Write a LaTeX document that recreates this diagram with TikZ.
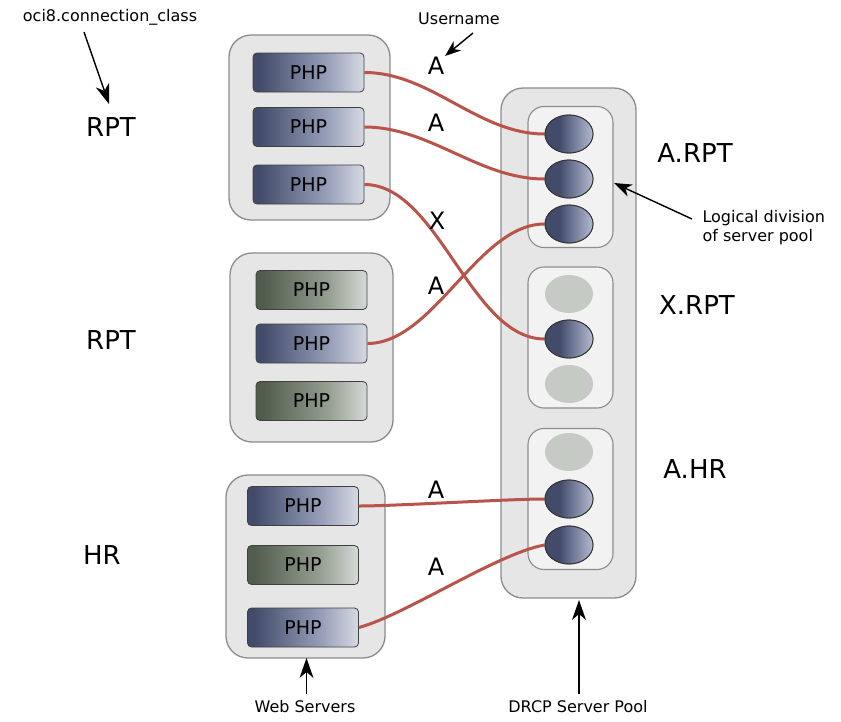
\documentclass[tikz,border=0pt]{standalone}
\usepackage{fontspec}
\setmainfont{DejaVu Sans}
\usetikzlibrary{shapes.geometric}
\definecolor{navy}{RGB}{66,76,106}
\definecolor{olive}{RGB}{80,92,76}
\definecolor{lightend}{RGB}{240,242,244}
\definecolor{midblue}{RGB}{150,158,184}
\definecolor{midgreen}{RGB}{150,160,146}
\definecolor{boxfill}{RGB}{230,230,230}
\definecolor{boxline}{RGB}{140,140,140}
\definecolor{grpfill}{RGB}{242,242,242}
\definecolor{idle}{RGB}{198,202,196}
\definecolor{wire}{RGB}{184,84,74}
\pgfdeclarehorizontalshading{phpblue}{100bp}{color(0bp)=(navy); color(28bp)=(navy); color(58bp)=(midblue); color(82bp)=(lightend); color(100bp)=(lightend)}
\pgfdeclarehorizontalshading{phpgreen}{100bp}{color(0bp)=(olive); color(28bp)=(olive); color(58bp)=(midgreen); color(82bp)=(lightend); color(100bp)=(lightend)}
\pgfdeclarehorizontalshading{ballblue}{100bp}{color(0bp)=(navy); color(40bp)=(navy); color(66bp)=(midblue); color(92bp)=(lightend); color(100bp)=(lightend)}
\begin{document}
\begin{tikzpicture}[x=1pt,y=-1pt,
  webbox/.style={draw=boxline,line width=1.3pt,fill=boxfill,rounded corners=22pt,inner sep=0pt},
  grpbox/.style={draw=boxline,line width=1.1pt,fill=grpfill,rounded corners=16pt,inner sep=0pt,minimum width=85pt,minimum height=141pt},
  phpb/.style={draw=black!75,line width=0.8pt,rounded corners=4pt,shading=phpblue,minimum width=111pt,minimum height=39pt,inner sep=0pt,font=\fontsize{19}{19}\selectfont},
  phpg/.style={phpb,shading=phpgreen},
  ball/.style={ellipse,draw=black!80,line width=0.9pt,shading=ballblue,minimum width=48pt,minimum height=38pt,inner sep=0pt},
  idleball/.style={ellipse,fill=idle,minimum width=48pt,minimum height=38pt,inner sep=0pt},
  wireline/.style={draw=wire,line width=3pt},
  big/.style={font=\fontsize{26}{26}\selectfont},
  lab/.style={font=\fontsize{24}{24}\selectfont},
  small/.style={font=\fontsize{16}{19}\selectfont,align=left},
  pointer/.style={line width=1.4pt},
  tiphead/.style={fill=black}]
\useasboundingbox (0,0) rectangle (841,721);
% web server boxes
\node[webbox,minimum width=161pt,minimum height=185pt] (w1) at (309.5,127.5) {};
\node[webbox,minimum width=163pt,minimum height=189pt] (w2) at (311.5,347.5) {};
\node[webbox,minimum width=159pt,minimum height=183pt] (w3) at (305.5,566.5) {};
% pool
\node[webbox,minimum width=135pt,minimum height=510pt] (pool) at (568.5,343) {};
\node[grpbox] (g1) at (570.5,177) {};
\node[grpbox] (g2) at (570.5,337.5) {};
\node[grpbox] (g3) at (570.5,499) {};
% php processes
\node[phpb] (p1) at (308.5,72.5) {PHP};
\node[phpb] (p2) at (308.5,127) {PHP};
\node[phpb] (p3) at (308.5,184.5) {PHP};
\node[phpg] (p4) at (311.5,290) {PHP};
\node[phpb] (p5) at (311.5,343.5) {PHP};
\node[phpg] (p6) at (311.5,401) {PHP};
\node[phpb] (p7) at (303,506) {PHP};
\node[phpg] (p8) at (303,565) {PHP};
\node[phpb] (p9) at (303,627.5) {PHP};
% server processes
\node[ball] (c1) at (569,134) {};
\node[ball] (c2) at (569,179) {};
\node[ball] (c3) at (569,224) {};
\node[idleball] (c4) at (569,294) {};
\node[ball] (c5) at (569,339) {};
\node[idleball] (c6) at (569,384) {};
\node[idleball] (c7) at (569,452) {};
\node[ball] (c8) at (569,499) {};
\node[ball] (c9) at (569,545) {};
% connections
\draw[wireline] (p1.east) to[out=0,in=180,looseness=0.9] (c1.west);
\draw[wireline] (p2.east) to[out=0,in=180,looseness=0.9] (c2.west);
\draw[wireline] (p3.east) to[out=0,in=180,looseness=0.8] (c5.west);
\draw[wireline] (p5.east) to[out=0,in=180,looseness=0.8] (c3.west);
\draw[wireline] (p7.east) to[out=0,in=180,looseness=0.5] (c8.west);
\draw[wireline] (p9.east) to[out=15,in=190,looseness=0.6] (c9.west);
% redraw balls on top of wires
\node[ball] at (c1) {};
\node[ball] at (c2) {};
\node[ball] at (c3) {};
\node[ball] at (c5) {};
\node[ball] at (c8) {};
\node[ball] at (c9) {};
% username labels
\node[lab] (a1) at (436,66) {A};
\node[lab] (a2) at (436,123) {A};
\node[lab] (x1) at (437,221) {X};
\node[lab] (a4) at (436,286) {A};
\node[lab] (a5) at (436,490) {A};
\node[lab] (a6) at (436,567) {A};
% connection class labels
\node[big] (r1) at (111,127) {RPT};
\node[big] (r2) at (111,340) {RPT};
\node[big] (r3) at (102,555) {HR};
\node[big] (pa) at (695,153) {A.RPT};
\node[big] (px) at (697,305) {X.RPT};
\node[big] (ph) at (695,469) {A.HR};
% annotations
\node[small] (oci) at (110,17) {oci8.connection\_class};
\node[small] (user) at (459,19) {Username};
\node[small,anchor=west] (logic) at (699,228) {Logical division\\of server pool};
\node[small] (web) at (305,707) {Web Servers};
\node[small] (drcp) at (578,707) {DRCP Server Pool};
% pointer arrows (line + filled stealth head)
\coordinate (ocistart) at (84,32);
\coordinate (ocitip) at (109,104);
\draw[pointer] (ocistart) -- (104.4,90.8);
\fill[tiphead] (ocitip) -- (95.8,87.4) -- (104.4,90.8) -- (109.1,82.8) -- cycle;
\coordinate (userstart) at (473,33);
\coordinate (usertip) at (445,56);
\draw[pointer] (userstart) -- (453.5,49.0);
\fill[tiphead] (usertip) -- (453.6,41.2) -- (453.5,49.0) -- (461.2,50.4) -- cycle;
\coordinate (logstart) at (692,219);
\coordinate (logtip) at (614,183);
\draw[pointer] (logstart) -- (625.4,188.3);
\fill[tiphead] (logtip) -- (633.0,184.6) -- (625.4,188.3) -- (627.6,196.4) -- cycle;
\coordinate (webstart) at (306.5,694);
\coordinate (webtip) at (306.5,658);
\draw[pointer] (webstart) -- (306.5,672);
\fill[tiphead] (webtip) -- (299.5,678) -- (306.5,672) -- (313.5,678) -- cycle;
\coordinate (drcpstart) at (579,694);
\coordinate (drcptip) at (579,600);
\draw[pointer] (drcpstart) -- (579,614);
\fill[tiphead] (drcptip) -- (572,620) -- (579,614) -- (586,620) -- cycle;
\end{tikzpicture}
\end{document}
